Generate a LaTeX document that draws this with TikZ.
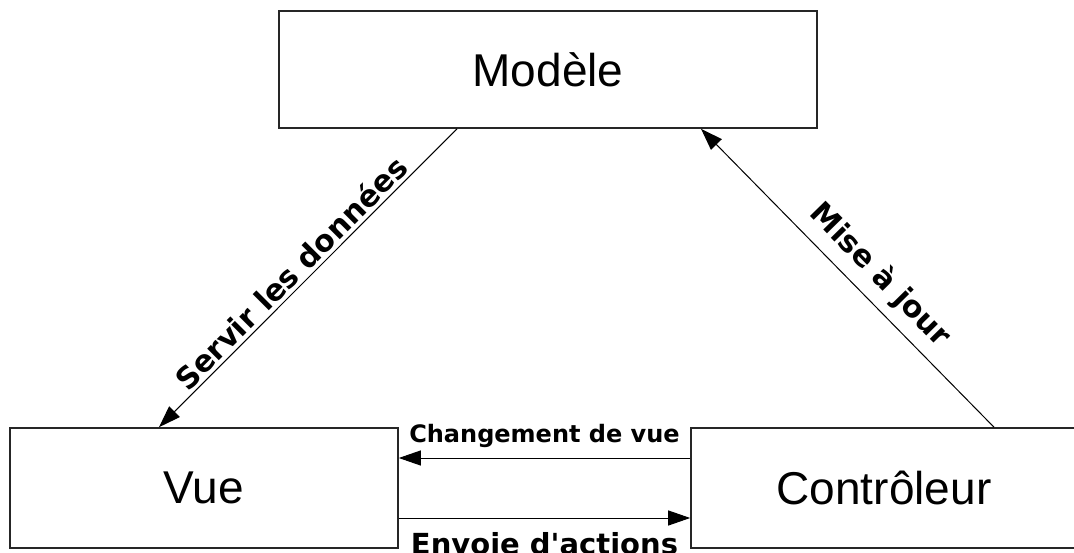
\documentclass[tikz,border=0pt]{standalone}
\usepackage{fontspec}
\setmainfont{Liberation Sans}
\newfontfamily\lblfont{DejaVu Sans}
\usetikzlibrary{arrows.meta}
\begin{document}
\begin{tikzpicture}[
            x=1pt,y=-1pt,
            box/.style={draw=black!85,line width=1.6pt,minimum height=120pt,
                        font=\fontsize{46}{52}\selectfont},
            lbl/.style={font=\lblfont\bfseries\fontsize{30}{34}\selectfont},
            every path/.style={>={Triangle[length=22pt,width=15pt]}},
            flow/.style={line width=1pt}
            ]
            \useasboundingbox (0,0) rectangle (1074,553);
            \node[box,minimum width=538pt,minimum height=117pt] (modele) at (548,69.5) {Modèle};
            \node[box,minimum width=388pt] (vue) at (204,488) {Vue};
            \node[box,minimum width=386pt] (ctrl) at (884,488) {Contrôleur};
            \draw[->,flow] ([xshift=-91pt]modele.south) -- node[sloped,above,lbl,pos=0.52] {Servir les données} ([xshift=-45pt]vue.north);
            \draw[->,flow] ([xshift=110pt]ctrl.north) -- node[sloped,above=6pt,lbl,pos=0.45] {Mise à jour} ([xshift=153pt]modele.south);
            \draw[->,flow] ([yshift=30pt]ctrl.west) -- node[above=6pt,font=\lblfont\bfseries\fontsize{24}{28}\selectfont] {Changement de vue} ([yshift=30pt]vue.east);
            \draw[->,flow] ([yshift=-30pt]vue.east) -- node[below=11pt,font=\lblfont\bfseries\fontsize{29}{33}\selectfont] {Envoie d'actions} ([yshift=-30pt]ctrl.west);
        \end{tikzpicture}
\end{document}
